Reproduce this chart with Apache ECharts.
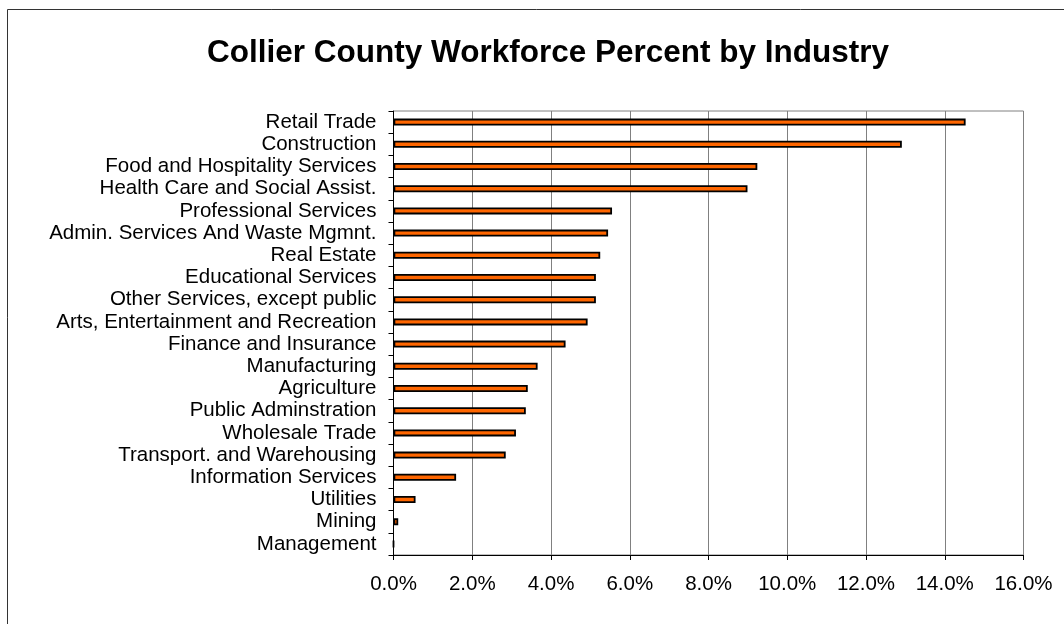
<!DOCTYPE html>
<html>
<head>
<meta charset="utf-8">
<script src="https://cdn.jsdelivr.net/npm/echarts@6/dist/echarts.min.js"></script>
<style>
  html, body { margin: 0; padding: 0; background: #fff; }
  #chart { width: 1064px; height: 624px; }
</style>
</head>
<body>
<div id="chart"></div>
<script>
// Industries, listed top to bottom
const industries = [
  'Retail Trade',
  'Construction',
  'Food and Hospitality Services',
  'Health Care and Social Assist.',
  'Professional Services',
  'Admin. Services And Waste Mgmnt.',
  'Real Estate',
  'Educational Services',
  'Other Services, except public',
  'Arts, Entertainment and Recreation',
  'Finance and Insurance',
  'Manufacturing',
  'Agriculture',
  'Public Adminstration',
  'Wholesale Trade',
  'Transport. and Warehousing',
  'Information Services',
  'Utilities',
  'Mining',
  'Management'
];

// Share of the workforce, in percent
const workforcePercent = [
  14.53, 12.91, 9.24, 8.99, 5.55, 5.45, 5.25, 5.14, 5.14, 4.93,
  4.37, 3.66, 3.41, 3.36, 3.11, 2.85, 1.59, 0.56, 0.12, 0.00
];

// Value axis range and step, in percent
const axisMin = 0;
const axisMax = 16;
const axisStep = 2;

const chart = echarts.init(document.getElementById('chart'), null, { renderer: 'canvas' });

const font = '"Liberation Sans", Arial, sans-serif';

chart.setOption({
  backgroundColor: '#ffffff',
  animation: false,
  title: {
    text: 'Collier County Workforce Percent by Industry',
    left: 543,
    textAlign: 'center',
    top: 32,
    textStyle: {
      fontFamily: font,
      fontSize: 31.5,
      fontWeight: 'bold',
      color: '#000'
    }
  },
  graphic: [{
    type: 'rect',
    position: [0, 0],
    shape: { x: 7.5, y: 9.5, width: 1100, height: 700 },
    style: { fill: 'none', stroke: '#333', lineWidth: 1 },
    silent: true,
    z: -1
  }],
  grid: {
    left: 393.5,
    right: 40.5,
    top: 111,
    bottom: 69,
    show: true,
    borderColor: '#808080',
    borderWidth: 1,
    containLabel: false
  },
  xAxis: {
    type: 'value',
    min: axisMin,
    max: axisMax,
    interval: axisStep,
    axisLine: { show: true, lineStyle: { color: '#000', width: 1 } },
    axisTick: { show: true, length: 5, lineStyle: { color: '#000' } },
    splitLine: { show: true, lineStyle: { color: '#808080', width: 1 } },
    axisLabel: {
      color: '#000',
      fontFamily: font,
      fontSize: 20.5,
      margin: 19,
      formatter: v => v.toFixed(1) + '%'
    }
  },
  yAxis: {
    type: 'category',
    inverse: true,
    data: industries,
    axisLine: { show: true, lineStyle: { color: '#000', width: 1 } },
    axisTick: { show: true, length: 5, lineStyle: { color: '#000' } },
    axisLabel: {
      interval: 0,
      color: '#000',
      fontFamily: font,
      fontSize: 20.5,
      margin: 17
    }
  },
  series: [{
    type: 'bar',
    data: workforcePercent,
    barWidth: 7,
    itemStyle: {
      color: '#FF6600',
      borderColor: '#000',
      borderWidth: 1.8
    }
  }]
});
</script>
</body>
</html>
